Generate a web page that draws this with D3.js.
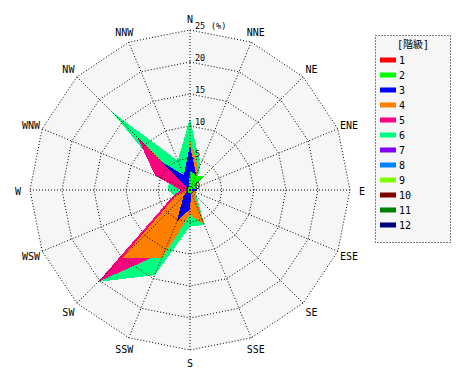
<!DOCTYPE html>
<html><head><meta charset="utf-8">
<script src="https://cdn.jsdelivr.net/npm/d3@7"></script>
<style>
html,body{margin:0;padding:0;background:#fff;}
text{font-family:"DejaVu Sans Mono","Noto Sans CJK JP",monospace;font-size:10px;fill:#000;}
text.tick{font-size:8.5px;}
</style></head>
<body><svg id="c" width="470" height="380"></svg>
<script>
const directions = ["N","NNE","NE","ENE","E","ESE","SE","SSE","S","SSW","SW","WSW","W","WNW","NW","NNW"];
const classes = ["1","2","3","4","5","6","7","8","9","10","11","12"];
const colors = ["#ff0000","#00ff00","#0000ff","#ff8000","#ff0080","#00ff80","#8000ff","#0080ff","#80ff00","#800000","#008000","#000080"];
const ticks = [0,5,10,15,20,25];
const legendTitle = "[階級]";
const unitLabel = "(%)";
// frequency (%) per class, by direction N..NNW
const class1  = [0,0,0,0,0,0,0,0,0,0,0,0,0,0,0,0];
const class2  = [3.0,2.5,3.0,0.5,0.3,0.3,0.3,0.8,0.5,0.5,0.5,0.3,0.3,0.3,0.5,0.5];
const class3  = [7.0,2.5,0.5,0.3,2.8,0.3,0.3,0.5,3.0,5.3,1.5,0.5,0.5,0.3,6.1,2.5];
const class4  = [7.8,3.5,0.5,0.3,0.5,1.0,1.0,5.8,3.9,11.5,15.0,2.4,0.5,0.2,9.5,0.5];
const class5  = [0.5,0.3,0.3,0.2,0.2,0.2,0.3,0.5,1.0,10.5,20.3,3.1,1.5,5.9,11.6,0.3];
const class6  = [11.2,4.2,1.5,1.0,1.0,1.0,1.5,5.9,5.7,14.4,20.3,2.5,3.5,3.5,17.3,5.0];
const class7  = [0,0,0,0,0,0,0,0,0,0,0,0,0,0,0,0];
const class8  = [0,0,0,0,0,0,0,0,0,0,0,0,0,0,0,0];
const class9  = [0,0,0,0,0,0,0,0,0,0,0,0,0,0,0,0];
const class10 = [0,0,0,0,0,0,0,0,0,0,0,0,0,0,0,0];
const class11 = [0,0,0,0,0,0,0,0,0,0,0,0,0,0,0,0];
const class12 = [0,0,0,0,0,0,0,0,0,0,0,0,0,0,0,0];
const series = [class1,class2,class3,class4,class5,class6,class7,class8,class9,class10,class11,class12];

const cx = 190, cy = 190, R = 160;
const svg = d3.select("#c");
const r = d3.scaleLinear().domain([0,25]).range([0,R]);
const ang = d3.scalePoint().domain(directions).range([0, 2*Math.PI*15/16]);
const g = svg.append("g").attr("transform",`translate(${cx},${cy})`);

const ringLine = d3.lineRadial().angle(d=>ang(d.dir)).radius(d=>r(d.v)).curve(d3.curveLinearClosed);

// background
g.append("path").attr("d", ringLine(directions.map(dir=>({dir, v:25})))).attr("fill","#f6f6f6");

// series polygons, last class drawn first
const polyLine = d3.lineRadial().angle((d,i)=>ang(directions[i])).radius(d=>r(d)).curve(d3.curveLinearClosed);
for (let k = series.length-1; k >= 0; k--) {
  g.append("path").attr("d", polyLine(series[k])).attr("fill", colors[k]).attr("shape-rendering","crispEdges");
}

// grid rings
ticks.filter(t=>t>0).forEach(t=>{
  g.append("path").attr("d", ringLine(directions.map(dir=>({dir, v:t}))))
   .attr("fill","none").attr("stroke","#000").attr("stroke-width",1).attr("stroke-dasharray","1,2");
});
// spokes
directions.forEach(dir=>{
  const a = ang(dir);
  g.append("line").attr("x1",0).attr("y1",0)
   .attr("x2", r(25)*Math.sin(a)).attr("y2", -r(25)*Math.cos(a))
   .attr("stroke","#000").attr("stroke-width",1).attr("stroke-dasharray","1,2");
});
// direction labels
directions.forEach(dir=>{
  const a = ang(dir), rr = R+12;
  g.append("text").attr("x", rr*Math.sin(a)).attr("y", -rr*Math.cos(a)+1)
   .attr("text-anchor","middle").attr("dominant-baseline","central").text(dir);
});
// tick labels
ticks.forEach(t=>{
  g.append("text").attr("class","tick").attr("x",5).attr("y", -r(t)-1).text(t);
});
g.append("text").attr("class","tick").attr("x",21).attr("y",-r(25)-1).text(unitLabel);

// legend
const lg = svg.append("g");
lg.append("rect").attr("x",375.5).attr("y",35.5).attr("width",75).attr("height",207)
  .attr("fill","#f6f6f6").attr("stroke","#000").attr("stroke-dasharray","1,2");
lg.append("text").attr("x",413).attr("y",44).attr("text-anchor","middle")
  .attr("dominant-baseline","central").text(legendTitle);
const ly = d3.scalePoint().domain(classes).range([60,225]);
classes.forEach((c,i)=>{
  lg.append("rect").attr("x",380).attr("y",ly(c)-2.5).attr("width",16).attr("height",5).attr("fill",colors[i]);
  lg.append("text").attr("x",399).attr("y",ly(c)).attr("dominant-baseline","central").text(c);
});
</script></body></html>
